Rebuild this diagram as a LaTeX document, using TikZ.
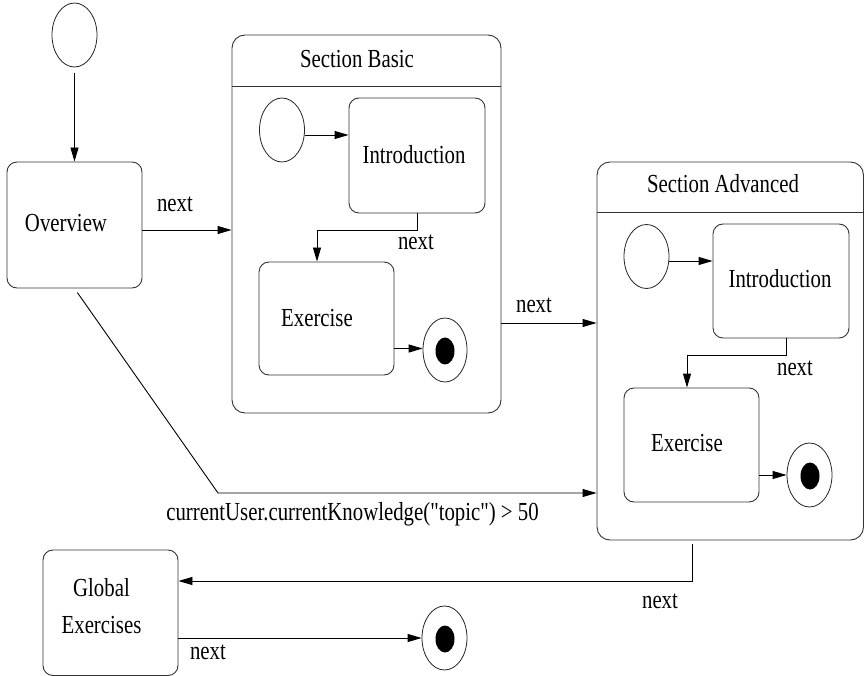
\documentclass[tikz,border=0pt]{standalone}
\usepackage{fontspec}
\setmainfont{Liberation Serif}[FakeStretch=0.8, Ligatures=TeXOff]
\usetikzlibrary{arrows.meta,shapes.geometric}

\tikzset{
  state/.style={draw=black!80, line width=0.9pt, rounded corners=10pt, inner sep=0pt},
  region/.style={draw=black!80, line width=0.9pt, rounded corners=13pt, inner sep=0pt},
  initial/.style={draw=black!85, ellipse, line width=0.8pt, minimum width=45pt,
                  minimum height=64pt, inner sep=0pt},
  finaldot/.style={fill=black, ellipse, minimum width=19pt, minimum height=27pt, inner sep=0pt},
  txt/.style={inner sep=0pt, font=\fontsize{26}{37}\selectfont},
  trans/.style={line width=0.9pt, -{Triangle[length=14pt,width=8pt]}},
  divider/.style={draw=black!80, line width=0.9pt},
}

\begin{document}
\begin{tikzpicture}[x=1pt,y=-1pt]
\useasboundingbox (0,0) rectangle (865,676);

% top level: start and overview
\node[initial] (s0) at (74.5,35) {};
\node[state, minimum width=135pt, minimum height=126pt] (ov) at (74.5,225) {};
\node[txt] (ovt) at (66,223) {Overview};

% composite state: Section Basic
\node[region, minimum width=269pt, minimum height=378pt] (sb) at (366.5,224) {};
\coordinate (sbh) at (0,86);
\draw[divider] (sb.west |- sbh) -- (sb.east |- sbh);
\node[txt] (sbt) at (357,59) {Section Basic};
\node[initial] (sb0) at (282,130) {};
\node[state, minimum width=136pt, minimum height=115pt] (sbi) at (417,155.5) {};
\node[txt] (sbit) at (414,155) {Introduction};
\node[state, minimum width=135pt, minimum height=113pt] (sbe) at (326.5,318.5) {};
\node[txt] (sbet) at (317,318) {Exercise};
\node[initial, minimum width=44pt] (sbf) at (445,350) {};
\node[finaldot] (sbfd) at (445,351) {};

\draw[trans] ([yshift=-5pt]sb0.east) -- ([yshift=-5pt]sb0.east -| sbi.west);
\draw[trans] (sbi.south) -- ++(0,17) -| ([xshift=-9.5pt]sbe.north);
\node[txt] (sbn) at (416,242) {next};
\draw[trans] ([yshift=-30pt]sbe.east) -- ([yshift=-30pt]sbe.east -| sbf.west);

% composite state: Section Advanced
\node[region, minimum width=266.5pt, minimum height=378pt] (sa) at (730.25,351) {};
\coordinate (sah) at (0,212);
\draw[divider] (sa.west |- sah) -- (sa.east |- sah);
\node[txt] (sat) at (723,184) {Section Advanced};
\node[initial] (sa0) at (646.5,256.5) {};
\node[state, minimum width=136pt, minimum height=114pt] (sai) at (781,281) {};
\node[txt] (sait) at (780,279) {Introduction};
\node[state, minimum width=135pt, minimum height=114pt] (sae) at (691.5,445) {};
\node[txt] (saet) at (687,443) {Exercise};
\node[initial] (saf) at (809.5,475) {};
\node[finaldot] (safd) at (810,476) {};

\draw[trans] ([yshift=-4.5pt]sa0.east) -- ([yshift=-4.5pt]sa0.east -| sai.west);
\draw[trans] ([xshift=5pt]sai.south) -- ++(0,17) -| ([xshift=-4.5pt]sae.north);
\node[txt] (san) at (795,368) {next};
\draw[trans] ([yshift=-30pt]sae.east) -- ([yshift=-30pt]sae.east -| saf.west);

% global exercises and final state
\node[state, minimum width=135pt, minimum height=125.5pt] (ge) at (110.5,612.75) {};
\node[txt, align=center] (get) at (101.5,606.5) {Global\\Exercises};
\node[initial] (gf) at (444.5,638) {};
\node[finaldot] (gfd) at (445,639) {};

% top level transitions
\draw[trans, shorten <=6pt] (s0.south) -- (ov.north);
\draw[trans] ([yshift=-5pt]ov.east) -- ([yshift=-5pt]ov.east -| sb.west);
\node[txt] (l1) at (175,204) {next};
\draw[trans] ([yshift=-99pt]sb.east) -- ([yshift=-99pt]sb.east -| sa.west);
\node[txt] (l2) at (534,305) {next};
\coordinate (kink) at (218,493);
\draw[trans, shorten <=5pt] (ov.south) -- (kink) -- (kink -| sa.west);
\node[txt, anchor=base] (l3) at (352.5,520) {currentUser.currentKnowledge("topic") > 50};
\draw[trans, shorten <=4pt] ([xshift=-38.25pt]sa.south) |- ([yshift=31.75pt]ge.east);
\node[txt] (l4) at (660,601) {next};
\draw[trans] ([yshift=-25.25pt]ge.east) -- ([yshift=-25.25pt]ge.east -| gf.west);
\node[txt] (l5) at (208,652) {next};
\end{tikzpicture}
\end{document}
